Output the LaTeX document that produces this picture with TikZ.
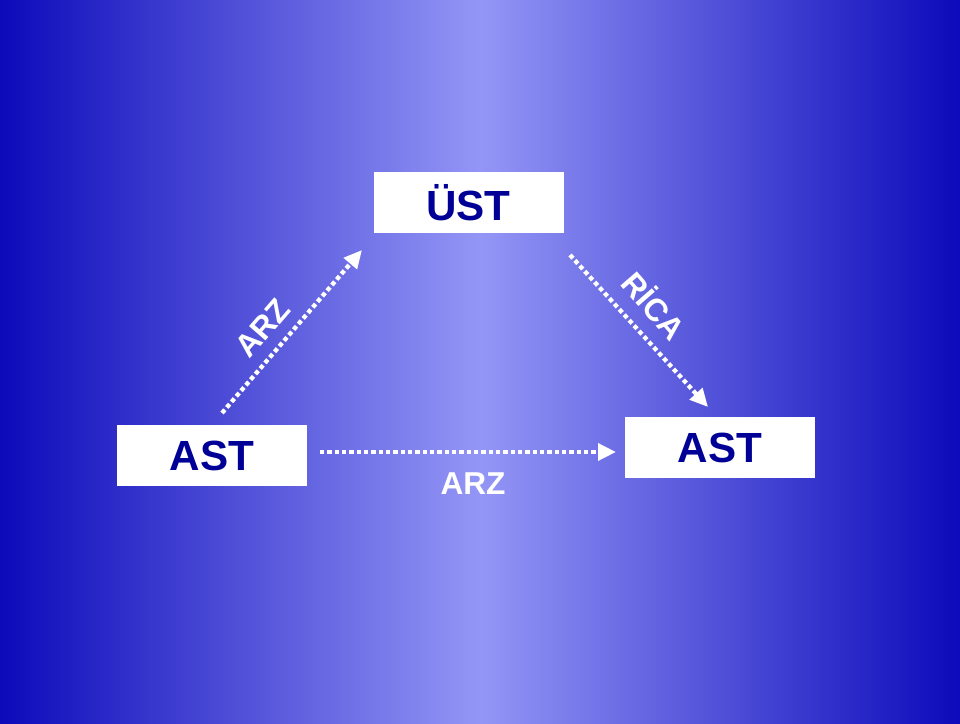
\documentclass[tikz,border=0pt]{standalone}
\usepackage{fontspec}
\setmainfont{Liberation Sans}
\usetikzlibrary{arrows.meta}
\definecolor{bgdark}{RGB}{12,10,186}
\definecolor{bglight}{RGB}{148,150,246}
\definecolor{txtblue}{RGB}{0,0,150}

\begin{document}
\begin{tikzpicture}[x=0.3mm, y=0.3mm,
  box/.style={fill=white, inner sep=0pt, minimum width=57mm, minimum height=18.3mm,
    text=txtblue, font=\fontsize{36}{40}\selectfont\bfseries},
  flow/.style={draw=white, line width=1.3mm, dash pattern=on 1.3mm off 0.9mm,
    -{Triangle[length=5.4mm, width=5mm]}},
  lbl/.style={text=white, font=\fontsize{27}{30}\selectfont\bfseries}]
% ================= background =================
\shade[left color=bgdark, right color=bgdark, middle color=bglight] (0,0) rectangle (960,723);
\useasboundingbox (0,0) rectangle (960,723);
% ================= boxes =================
\node[box] (ust) at (468.5,520.5) {ÜST};
\node[box] (astL) at (212,267.5) {AST};
\node[box] (astR) at (720,275.5) {AST};
% ================= arrows =================
\coordinate (arzA) at (222,310);  \coordinate (arzB) at (362,473);
\coordinate (ricA) at (570,468);  \coordinate (ricB) at (708,316);
\coordinate (horA) at (320,271);  \coordinate (horB) at (616,271);
\draw[flow] (arzA) -- (arzB);
\draw[flow] (ricA) -- (ricB);
\draw[flow] (horA) -- (horB);
% ================= labels =================
\node[lbl, rotate=49] (lArz) at (263,395) {ARZ};
\node[lbl, rotate=-49] (lRica) at (655,418) {RİCA};
\node[lbl] (lArz2) at (473,239) {ARZ};
\end{tikzpicture}
\end{document}
